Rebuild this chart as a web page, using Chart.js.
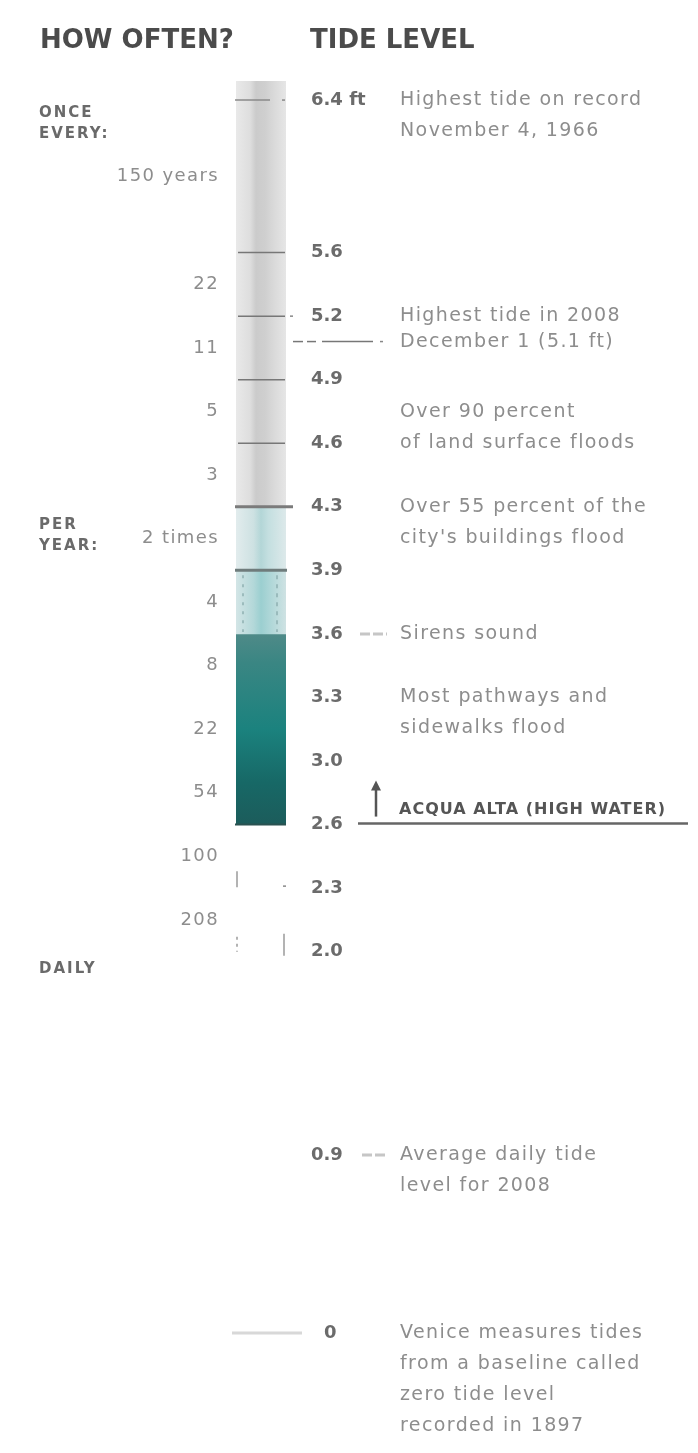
<!DOCTYPE html>
<html>
<head>
<meta charset="utf-8">
<title>Venice tides</title>
<script src="https://cdn.jsdelivr.net/npm/chart.js@4.4.1/dist/chart.umd.min.js"></script>
<style>
  html, body { margin: 0; padding: 0; background: #fff; }
  canvas { display: block; }
</style>
</head>
<body>
<canvas id="tides" width="698" height="1453"></canvas>
<script>
var CM_PER_FT = 30.48;

// tide marks in cm above the 1897 zero level, labelled in feet
var levels = [194, 170, 160, 150, 140, 130, 120, 110, 100, 90, 80, 70, 60, 28, 0];

// how often the tide gets into each band between two marks
var everyYears = ['150 years', '22', '11', '5', '3'];
var perYear = ['2 times', '4', '8', '22', '54', '100', '208'];

// column pieces, [bottom, top] in cm
var bands = [[130, 197], [120, 130], [110, 120], [80, 110]];

var notes = [
  { cm: 194, lines: ['Highest tide on record', 'November 4, 1966'] },
  { cm: 160, lines: ['Highest tide in 2008'] },
  { cm: 156, lines: ['December 1 (' + ft(156) + ' ft)'] },
  { cm: 140, lines: ['Over 90 percent', 'of land surface floods'] },
  { cm: 130, lines: ['Over 55 percent of the', "city's buildings flood"] },
  { cm: 110, lines: ['Sirens sound'] },
  { cm: 100, lines: ['Most pathways and', 'sidewalks flood'] },
  { cm: 80, lines: ['ACQUA ALTA (HIGH WATER)'] },
  { cm: 28, lines: ['Average daily tide', 'level for 2008'] },
  { cm: 0, lines: ['Venice measures tides', 'from a baseline called', 'zero tide level', 'recorded in 1897'] }
];

function ft(cm) {
  return cm === 0 ? '0' : (cm / CM_PER_FT).toFixed(1);
}

function across(stops) {
  return function(c) {
    var a = c.chart.chartArea;
    if (!a || !isFinite(a.left) || !isFinite(a.right)) return stops[2][1];
    var g = c.chart.ctx.createLinearGradient(a.left, 0, a.right, 0);
    stops.forEach(function(s) { g.addColorStop(s[0], s[1]); });
    return g;
  };
}

function down(stops) {
  return function(c) {
    var y = c.chart.scales.y;
    if (!y || !Array.isArray(c.raw)) return stops[2][1];
    var top = y.getPixelForValue(c.raw[1]), bottom = y.getPixelForValue(c.raw[0]);
    if (!isFinite(top) || !isFinite(bottom)) return stops[2][1];
    var g = c.chart.ctx.createLinearGradient(0, top, 0, bottom);
    stops.forEach(function(s) { g.addColorStop(s[0], s[1]); });
    return g;
  };
}

var fills = [
  across([[0, '#e9e9e9'], [0.28, '#dedede'], [0.4, '#cbcbcb'], [0.58, '#cfcfcf'], [0.75, '#d9d9d9'], [1, '#e6e6e6']]),
  across([[0, '#e2eced'], [0.35, '#cde1e2'], [0.5, '#b3d6d7'], [0.65, '#c4dfe0'], [1, '#dde9ea']]),
  across([[0, '#d3e5e6'], [0.35, '#b3d8d9'], [0.5, '#9bcfd0'], [0.7, '#b0d7d8'], [1, '#cfe2e3']]),
  down([[0, '#4f8a88'], [0.15, '#3a8683'], [0.5, '#1b827e'], [0.78, '#176866'], [1, '#1c5c5b']])
];

var tideMarks = {
  id: 'tideMarks',
  afterDatasetsDraw: function(chart) {
    var ctx = chart.ctx, y = chart.scales.y, a = chart.chartArea;
    var L = a.left, R = a.right;
    function Y(v) { return y.getPixelForValue(v); }
    function line(x1, y1, x2, y2, color, w, dash) {
      ctx.save();
      ctx.strokeStyle = color;
      ctx.lineWidth = w;
      ctx.setLineDash(dash || []);
      ctx.beginPath();
      ctx.moveTo(x1, y1);
      ctx.lineTo(x2, y2);
      ctx.stroke();
      ctx.restore();
    }
    function dot(x, py) { line(x, py, x + 3, py, '#888', 1.5); }
    function text(s, x, py, font, color, align, spacing) {
      ctx.save();
      ctx.font = font;
      ctx.fillStyle = color;
      ctx.textAlign = align || 'left';
      ctx.textBaseline = 'middle';
      ctx.letterSpacing = (spacing || 0) + 'px';
      ctx.fillText(s, x, py);
      ctx.restore();
    }

    // marks across the column
    levels.forEach(function(cm) {
      var py = Y(cm);
      if (cm === 194) { line(L - 1, py, L + 34, py, '#8a8a8a', 1.5); dot(R - 4, py); }
      else if (cm === 130) line(L - 1, py, R + 7, py, '#7b7b7b', 3);
      else if (cm === 120) line(L - 1, py, R + 1, py, '#6f7c7c', 3);
      else if (cm === 80) line(L - 1, py, R, py, '#2a5251', 2);
      else if (cm === 70) { line(L + 1, py - 17, L + 1, py - 1, '#9a9a9a', 1.5); dot(R - 3, py - 2); }
      else if (cm === 60) { line(L + 1, py - 15, L + 1, py, '#9a9a9a', 1.5, [3, 4]); line(R - 2, py - 18, R - 2, py + 4, '#9a9a9a', 1.5); }
      else if (cm === 0) line(L - 4, py, L + 66, py, '#d8d8d8', 3);
      else if (cm > 130) {
        line(L + 2, py, R - 1, py, '#777', 1.5);
        if (cm === 160) dot(R + 4, py);
      }
    });

    // dotted sides of the siren band
    line(L + 7, Y(120) + 5, L + 7, Y(110) - 2, '#8fb0b1', 1.5, [3, 6]);
    line(R - 9, Y(120) + 5, R - 9, Y(110) - 2, '#8fb0b1', 1.5, [4, 5]);

    // leaders to the notes
    var p156 = Y(156);
    line(R + 7, p156, R + 17, p156, '#777', 1.5);
    line(R + 21, p156, R + 30, p156, '#777', 1.5);
    line(R + 36, p156, R + 87, p156, '#777', 1.5);
    dot(R + 94, p156);
    line(360, Y(110), 387, Y(110), '#c6c6c6', 3, [10, 3]);
    line(362, Y(28), 386, Y(28), '#c6c6c6', 3, [10, 3]);
    var p80 = Y(80);
    line(358, p80 - 1, 688, p80 - 1, '#666', 2.5);
    line(376, p80 - 8, 376, p80 - 38, '#555', 2.5);
    ctx.save();
    ctx.fillStyle = '#555';
    ctx.beginPath();
    ctx.moveTo(371, p80 - 34);
    ctx.lineTo(376, p80 - 44);
    ctx.lineTo(381, p80 - 34);
    ctx.closePath();
    ctx.fill();
    ctx.restore();

    // headings
    text('HOW OFTEN?', 40, 41, 'bold 26px "DejaVu Sans"', '#4b4b4b');
    text('TIDE LEVEL', 310, 41, 'bold 26px "DejaVu Sans"', '#4b4b4b');

    var small = 'bold 15px "DejaVu Sans"';
    text('ONCE', 39, Y(194) + 13, small, '#6a6a6a', 'left', 2);
    text('EVERY:', 39, Y(194) + 34, small, '#6a6a6a', 'left', 2);

    // frequency for each band, halfway between its two marks
    var freq = everyYears.concat(perYear);
    freq.forEach(function(s, i) {
      var mid = (Y(levels[i]) + Y(levels[i + 1])) / 2;
      text(s, 219, mid, '18px "DejaVu Sans"', '#8d8d8d', 'right', 1.4);
    });
    var first = (Y(levels[5]) + Y(levels[6])) / 2;
    text('PER', 39, first - 13, small, '#6a6a6a', 'left', 2);
    text('YEAR:', 39, first + 8, small, '#6a6a6a', 'left', 2);
    text('DAILY', 39, Y(60) + 17, small, '#6a6a6a', 'left', 2);

    // tide level in feet
    levels.forEach(function(cm, i) {
      var s = ft(cm) + (i === 0 ? ' ft' : '');
      text(s, cm === 0 ? 324 : 311, Y(cm), 'bold 18px "DejaVu Sans"', '#6b6b6b');
    });

    // notes beside the marks
    notes.forEach(function(n) {
      var top = Y(n.cm) - (n.cm === 140 ? 31 : 0);
      n.lines.forEach(function(s, k) {
        if (n.cm === 80) text(s, 399, Y(n.cm) - 15, 'bold 16px "DejaVu Sans"', '#555', 'left', 1);
        else text(s, 400, top + k * 31, '19px "DejaVu Sans"', '#8d8d8d', 'left', 1.4);
      });
    });
  }
};

new Chart(document.getElementById('tides'), {
  type: 'bar',
  data: {
    labels: ['tide'],
    datasets: bands.map(function(b, i) {
      return {
        data: [b],
        backgroundColor: fills[i],
        borderWidth: 0,
        grouped: false,
        barPercentage: 1,
        categoryPercentage: 1
      };
    })
  },
  options: {
    responsive: false,
    animation: false,
    layout: { padding: { left: 236, right: 412, top: 81, bottom: 120 } },
    plugins: { legend: { display: false }, tooltip: { enabled: false } },
    scales: {
      x: { display: false },
      y: { display: false, min: 0, max: 197 }
    }
  },
  plugins: [tideMarks]
});
</script>
</body>
</html>
